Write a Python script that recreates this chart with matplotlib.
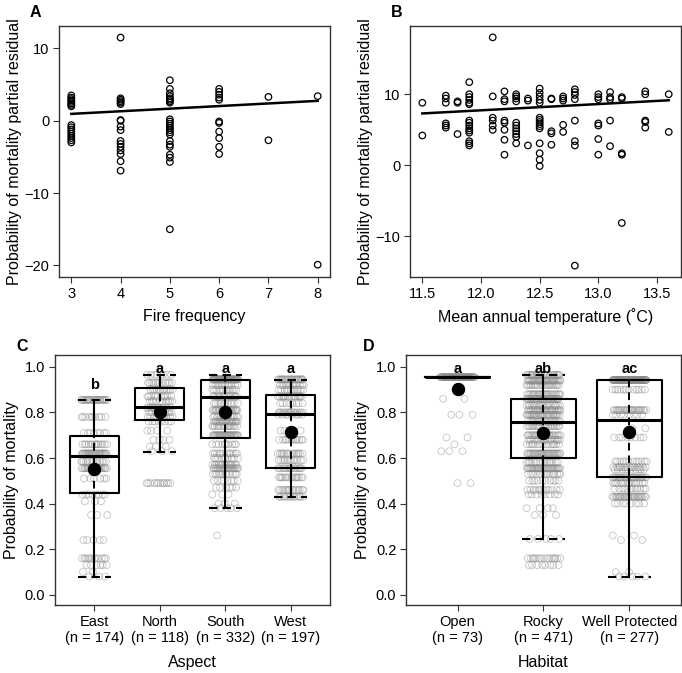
import numpy as np
import matplotlib.pyplot as plt

plt.rcParams['font.family'] = ['Liberation Sans', 'DejaVu Sans']
plt.rcParams['axes.edgecolor'] = '#333333'
plt.rcParams['xtick.color'] = '#333333'
plt.rcParams['ytick.color'] = '#333333'
plt.rcParams['xtick.labelcolor'] = 'black'
plt.rcParams['ytick.labelcolor'] = 'black'

# --- panel A: fire frequency partial residuals ---
fire_levels = [3, 4, 5, 6, 7, 8]
fire_resid = [
    [3.5, 3.2, 3.0, 2.8, 2.6, 2.4, 2.2, 2.0, -0.6, -0.9, -1.2, -1.5, -1.8, -2.1, -2.4, -2.7, -3.0],
    [11.5, 3.1, 2.9, 2.7, 2.5, 2.3, 0.1, 0.0, -0.8, -1.3, -2.8, -3.2, -3.6, -4.1, -4.6, -5.6, -6.9],
    [5.6, 4.4, 3.8, 3.4, 3.1, 2.9, 2.7, 2.5, 0.2, -0.1, -0.4, -0.7, -1.0, -1.3, -1.6, -1.9,
     -2.8, -3.3, -3.6, -4.7, -5.1, -5.7, -15.0],
    [4.4, 4.0, 3.6, 3.2, 2.9, -0.1, -0.3, -1.5, -2.4, -3.6, -4.6],
    [3.3, -2.7],
    [3.4, -19.9],
]
fire_fit_x = [3, 8]
fire_fit_y = [0.95, 2.75]

# --- panel B: mean annual temperature partial residuals ---
temp_levels = [11.5, 11.7, 11.8, 11.9, 12.1, 12.2, 12.3, 12.4, 12.5, 12.6, 12.7, 12.8, 13.0, 13.1, 13.2, 13.4, 13.6]
temp_resid = [
    [8.8, 4.2],
    [9.8, 9.4, 8.8, 5.9, 5.6, 5.3],
    [9.0, 8.8, 4.4],
    [11.7, 10.0, 9.6, 9.2, 8.8, 8.6, 6.3, 6.0, 5.6, 5.2, 4.9, 4.6, 3.4, 3.1, 2.8],
    [18.0, 9.7, 6.7, 6.3, 5.6, 5.0],
    [10.4, 9.3, 9.0, 6.3, 6.0, 5.0, 3.6, 1.5],
    [10.0, 9.7, 9.4, 9.0, 6.0, 5.6, 5.2, 4.8, 4.4, 4.0, 3.1],
    [9.4, 9.1, 2.8],
    [10.8, 10.2, 9.7, 9.2, 8.8, 6.7, 6.4, 6.1, 5.8, 5.5, 5.2, 3.1, 1.7, 0.8, -0.1],
    [9.4, 9.3, 4.8, 4.5, 2.9],
    [9.7, 9.4, 9.1, 5.7, 4.7],
    [10.7, 10.3, 9.9, 9.3, 6.3, 3.4, 2.8, -14.1],
    [10.0, 9.6, 9.3, 5.9, 5.6, 3.7, 1.5],
    [10.3, 9.6, 9.3, 6.3, 2.7],
    [9.6, 9.4, 1.7, 1.5, -8.1],
    [10.4, 10.0, 6.3, 6.1, 5.3],
    [10.0, 4.7],
]
temp_fit_x = [11.5, 13.6]
temp_fit_y = [7.3, 9.15]

# --- panel C: aspect ---
aspect_names = ['East', 'North', 'South', 'West']
aspect_n = [174, 118, 332, 197]
aspect_letters = ['b', 'a', 'a', 'a']
aspect_letter_y = [0.92, 0.99, 0.99, 0.99]
aspect_levels = [
    [0.855, 0.78, 0.71, 0.66, 0.62, 0.585, 0.555, 0.51, 0.44, 0.41, 0.35, 0.24, 0.16, 0.13, 0.10, 0.08],
    [0.965, 0.93, 0.90, 0.87, 0.85, 0.82, 0.80, 0.78, 0.76, 0.72, 0.68, 0.65, 0.63, 0.49],
    [0.945, 0.92, 0.90, 0.87, 0.84, 0.81, 0.78, 0.76, 0.74, 0.70, 0.66, 0.62, 0.60, 0.57,
     0.555, 0.53, 0.50, 0.47, 0.44, 0.40, 0.38, 0.26],
    [0.945, 0.92, 0.90, 0.87, 0.84, 0.80, 0.79, 0.72, 0.68, 0.62, 0.59, 0.555, 0.515, 0.46, 0.43],
]
aspect_counts = [
    [25, 10, 8, 14, 32, 14, 23, 6, 8, 3, 3, 5, 12, 6, 2, 3],
    [8, 12, 12, 10, 10, 12, 10, 10, 8, 4, 4, 3, 3, 12],
    [66, 12, 12, 15, 12, 25, 15, 20, 15, 35, 10, 12, 10, 15, 20, 12, 8, 6, 3, 3, 5, 1],
    [25, 12, 12, 15, 8, 15, 8, 5, 12, 15, 12, 15, 15, 15, 13],
]
aspect_q1 = [0.447, 0.767, 0.690, 0.557]
aspect_med = [0.607, 0.824, 0.866, 0.793]
aspect_q3 = [0.697, 0.906, 0.942, 0.876]
aspect_lo = [0.080, 0.627, 0.380, 0.427]
aspect_hi = [0.855, 0.965, 0.965, 0.943]
aspect_mean = [0.554, 0.800, 0.803, 0.712]

# --- panel D: habitat ---
habitat_names = ['Open', 'Rocky', 'Well Protected']
habitat_n = [73, 471, 277]
habitat_letters = ['a', 'ab', 'ac']
habitat_letter_y = [0.99, 0.99, 0.99]
habitat_levels = [
    [0.955, 0.86, 0.79, 0.69, 0.66, 0.63, 0.49],
    [0.965, 0.94, 0.92, 0.88, 0.86, 0.83, 0.81, 0.79, 0.76, 0.74, 0.70, 0.68, 0.66, 0.62,
     0.58, 0.555, 0.53, 0.50, 0.46, 0.44, 0.38, 0.35, 0.245, 0.16, 0.13],
    [0.942, 0.90, 0.81, 0.79, 0.73, 0.69, 0.585, 0.56, 0.55, 0.515, 0.49, 0.465, 0.43, 0.40,
     0.26, 0.24, 0.10, 0.08],
]
habitat_counts = [
    [60, 2, 3, 2, 1, 3, 2],
    [25, 36, 20, 25, 30, 20, 25, 30, 20, 20, 25, 15, 15, 35, 15, 35, 15, 10, 12, 8, 4, 3, 5, 15, 8],
    [85, 12, 25, 8, 2, 8, 12, 15, 10, 25, 15, 12, 29, 8, 2, 2, 2, 5],
]
habitat_q1 = [0.955, 0.602, 0.516]
habitat_med = [0.955, 0.759, 0.766]
habitat_q3 = [0.955, 0.861, 0.942]
habitat_lo = [0.955, 0.246, 0.080]
habitat_hi = [0.955, 0.965, 0.942]
habitat_mean = [0.905, 0.709, 0.712]


def style_axes(ax):
    for s in ax.spines.values():
        s.set_linewidth(1.0)
    ax.tick_params(length=4, width=0.8, labelsize=10.5, pad=3)


def scatter_panel(ax, levels, resid, fit_x, fit_y):
    xs = np.concatenate([[lv] * len(r) for lv, r in zip(levels, resid)])
    ys = np.concatenate(resid)
    ax.scatter(xs, ys, s=22, facecolors='none', edgecolors='black', linewidths=0.9, zorder=2)
    ax.plot(fit_x, fit_y, color='black', lw=1.8, zorder=3)
    style_axes(ax)


def box_panel(ax, names, ns, levels, counts, q1, med, q3, lo, hi, mean, letters, letter_y):
    pos = np.arange(1, len(names) + 1)
    for i, p in enumerate(pos):
        ys = np.repeat(levels[i], counts[i])
        k = np.arange(len(ys))
        dx = ((k * 0.6180339887 + 0.31 * i) % 1 - 0.5) * 0.4
        ax.scatter(p + dx, ys, s=24, facecolors='none', edgecolors='#8a8a8a',
                   linewidths=0.6, alpha=0.5, zorder=2)
    dash = (0, (4, 2.5))
    ax.vlines(pos, lo, hi, colors='black', linestyles=dash, lw=1.4, zorder=3)
    stats = [dict(med=med[i], q1=q1[i], q3=q3[i], whislo=lo[i], whishi=hi[i]) for i in range(len(names))]
    ax.bxp(stats, positions=pos, widths=0.75, capwidths=0.5, showfliers=False, manage_ticks=False,
           boxprops=dict(color='black', lw=1.5),
           whiskerprops=dict(color='black', lw=1.5),
           capprops=dict(color='black', lw=1.5, linestyle=dash),
           medianprops=dict(color='black', lw=2.2), zorder=4)
    ax.scatter(pos, mean, s=75, color='black', zorder=5)
    for p, t, y in zip(pos, letters, letter_y):
        ax.text(p, y, t, ha='center', va='center', fontsize=10.5, fontweight='bold')
    ax.set_xlim(0.4, len(names) + 0.6)
    ax.set_ylim(-0.045, 1.052)
    ax.set_xticks(pos)
    ax.set_xticklabels(['%s\n(n = %d)' % (nm, n) for nm, n in zip(names, ns)], linespacing=1.25)
    ax.set_yticks([0.0, 0.2, 0.4, 0.6, 0.8, 1.0])
    ax.set_yticklabels(['0.0', '0.2', '0.4', '0.6', '0.8', '1.0'])
    ax.set_ylabel('Probability of mortality', fontsize=11.5)
    style_axes(ax)


fig = plt.figure(figsize=(6.82, 6.73), dpi=100)

axA = fig.add_axes([0.0865, 0.5884, 0.3974, 0.373])
scatter_panel(axA, fire_levels, fire_resid, fire_fit_x, fire_fit_y)
axA.set_xlim(2.75, 8.25)
axA.set_ylim(-21.6, 13.1)
axA.set_yticks([-20, -10, 0, 10])
axA.set_xlabel('Fire frequency', fontsize=11.5, labelpad=6)
axA.set_ylabel('Probability of mortality partial residual', fontsize=11.5, labelpad=2)

axB = fig.add_axes([0.6012, 0.5884, 0.3974, 0.373])
scatter_panel(axB, temp_levels, temp_resid, temp_fit_x, temp_fit_y)
axB.set_xlim(11.395, 13.705)
axB.set_ylim(-15.7, 19.6)
axB.set_xticks([11.5, 12.0, 12.5, 13.0, 13.5])
axB.set_xticklabels(['11.5', '12.0', '12.5', '13.0', '13.5'])
axB.set_yticks([-10, 0, 10])
axB.set_xlabel('Mean annual temperature (\u02daC)', fontsize=11.5, labelpad=5)
axB.set_ylabel('Probability of mortality partial residual', fontsize=11.5, labelpad=2)

axC = fig.add_axes([0.0806, 0.101, 0.4032, 0.3715])
box_panel(axC, aspect_names, aspect_n, aspect_levels, aspect_counts, aspect_q1, aspect_med,
          aspect_q3, aspect_lo, aspect_hi, aspect_mean, aspect_letters, aspect_letter_y)
axC.set_xlabel('Aspect', fontsize=11.5, labelpad=7)

axD = fig.add_axes([0.5953, 0.101, 0.4032, 0.3715])
box_panel(axD, habitat_names, habitat_n, habitat_levels, habitat_counts, habitat_q1, habitat_med,
          habitat_q3, habitat_lo, habitat_hi, habitat_mean, habitat_letters, habitat_letter_y)
axD.set_xlabel('Habitat', fontsize=11.5, labelpad=7)

for lab, x, y in [('A', 30, 5), ('B', 391, 5), ('C', 16, 339), ('D', 363, 339)]:
    fig.text(x / 682, 1 - y / 673, lab, fontsize=11.5, fontweight='bold', ha='left', va='top')

fig.savefig('out.png', dpi=100)
